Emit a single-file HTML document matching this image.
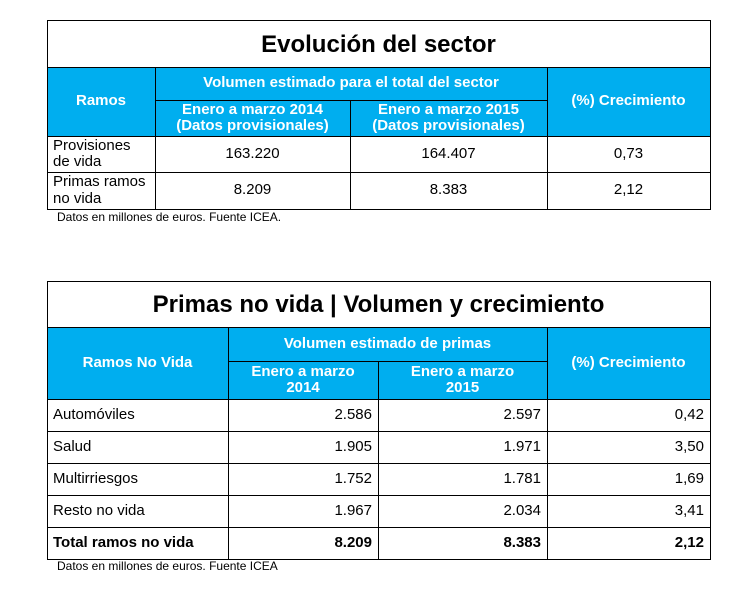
<!DOCTYPE html>
<html><head><style>
body{margin:0;width:750px;height:601px;background:#fff;font-family:"Liberation Sans",Arial,sans-serif;position:relative;overflow:hidden}
.a{position:absolute;box-sizing:border-box;display:flex;align-items:center;justify-content:center;text-align:center;line-height:1.07}
.b{background:#00aeef;color:#fff;font-weight:bold;font-size:15px}
.t{font-weight:bold;font-size:24px;color:#000}
.d{font-size:15px;color:#000}
.l{justify-content:flex-start;text-align:left;padding-left:6px}
.r{justify-content:flex-end;padding-right:6px}
.h{position:absolute;background:#000}
.fn{position:absolute;font-size:12px;color:#000}
</style></head><body>
<!-- Table 1 -->
<div class="a t" style="left:47px;top:21px;width:663px;height:47px">Evolución del sector</div>
<div class="a b" style="left:47px;top:67px;width:663px;height:69px"></div>
<div class="a b" style="left:47px;top:67px;width:108px;height:69px">Ramos</div>
<div class="a b" style="left:155px;top:67px;width:392px;height:33px">Volumen estimado para el total del sector</div>
<div class="a b" style="left:155px;top:100px;width:195px;height:36px">Enero a marzo 2014<br>(Datos provisionales)</div>
<div class="a b" style="left:350px;top:100px;width:197px;height:36px">Enero a marzo 2015<br>(Datos provisionales)</div>
<div class="a b" style="left:547px;top:67px;width:163px;height:69px">(%) Crecimiento</div>
<div class="a d l" style="left:47px;top:136px;width:108px;height:36px">Provisiones<br>de vida</div>
<div class="a d" style="left:155px;top:136px;width:195px;height:36px">163.220</div>
<div class="a d" style="left:350px;top:136px;width:197px;height:36px">164.407</div>
<div class="a d" style="left:547px;top:136px;width:163px;height:36px">0,73</div>
<div class="a d l" style="left:47px;top:172px;width:108px;height:37px">Primas ramos<br>no vida</div>
<div class="a d" style="left:155px;top:172px;width:195px;height:37px">8.209</div>
<div class="a d" style="left:350px;top:172px;width:197px;height:37px">8.383</div>
<div class="a d" style="left:547px;top:172px;width:163px;height:37px">2,12</div>
<div class="h" style="left:47px;top:20px;width:664px;height:1px"></div>
<div class="h" style="left:47px;top:67px;width:664px;height:1px"></div>
<div class="h" style="left:155px;top:100px;width:392px;height:1px"></div>
<div class="h" style="left:47px;top:136px;width:664px;height:1px"></div>
<div class="h" style="left:47px;top:172px;width:664px;height:1px"></div>
<div class="h" style="left:47px;top:209px;width:664px;height:1px"></div>
<div class="h" style="left:47px;top:20px;width:1px;height:190px"></div>
<div class="h" style="left:710px;top:20px;width:1px;height:190px"></div>
<div class="h" style="left:155px;top:67px;width:1px;height:143px"></div>
<div class="h" style="left:350px;top:100px;width:1px;height:110px"></div>
<div class="h" style="left:547px;top:67px;width:1px;height:143px"></div>
<div class="fn" style="left:57px;top:210px">Datos en millones de euros. Fuente ICEA.</div>
<!-- Table 2 -->
<div class="a t" style="left:47px;top:282px;width:663px;height:46px">Primas no vida | Volumen y crecimiento</div>
<div class="a b" style="left:47px;top:327px;width:663px;height:72px"></div>
<div class="a b" style="left:47px;top:327px;width:181px;height:72px">Ramos No Vida</div>
<div class="a b" style="left:228px;top:327px;width:319px;height:34px">Volumen estimado de primas</div>
<div class="a b" style="left:228px;top:361px;width:150px;height:38px">Enero a marzo<br>2014</div>
<div class="a b" style="left:378px;top:361px;width:169px;height:38px">Enero a marzo<br>2015</div>
<div class="a b" style="left:547px;top:327px;width:163px;height:72px">(%) Crecimiento</div>
<div class="a d l" style="left:47px;top:399px;width:181px;height:32px">Automóviles</div>
<div class="a d r" style="left:228px;top:399px;width:150px;height:32px">2.586</div>
<div class="a d r" style="left:378px;top:399px;width:169px;height:32px">2.597</div>
<div class="a d r" style="left:547px;top:399px;width:163px;height:32px">0,42</div>
<div class="a d l" style="left:47px;top:431px;width:181px;height:32px">Salud</div>
<div class="a d r" style="left:228px;top:431px;width:150px;height:32px">1.905</div>
<div class="a d r" style="left:378px;top:431px;width:169px;height:32px">1.971</div>
<div class="a d r" style="left:547px;top:431px;width:163px;height:32px">3,50</div>
<div class="a d l" style="left:47px;top:463px;width:181px;height:32px">Multirriesgos</div>
<div class="a d r" style="left:228px;top:463px;width:150px;height:32px">1.752</div>
<div class="a d r" style="left:378px;top:463px;width:169px;height:32px">1.781</div>
<div class="a d r" style="left:547px;top:463px;width:163px;height:32px">1,69</div>
<div class="a d l" style="left:47px;top:495px;width:181px;height:32px">Resto no vida</div>
<div class="a d r" style="left:228px;top:495px;width:150px;height:32px">1.967</div>
<div class="a d r" style="left:378px;top:495px;width:169px;height:32px">2.034</div>
<div class="a d r" style="left:547px;top:495px;width:163px;height:32px">3,41</div>
<div class="a d l" style="left:47px;top:527px;width:181px;height:32px;font-weight:bold">Total ramos no vida</div>
<div class="a d r" style="left:228px;top:527px;width:150px;height:32px;font-weight:bold">8.209</div>
<div class="a d r" style="left:378px;top:527px;width:169px;height:32px;font-weight:bold">8.383</div>
<div class="a d r" style="left:547px;top:527px;width:163px;height:32px;font-weight:bold">2,12</div>
<div class="h" style="left:47px;top:281px;width:664px;height:1px"></div>
<div class="h" style="left:47px;top:327px;width:664px;height:1px"></div>
<div class="h" style="left:228px;top:361px;width:319px;height:1px"></div>
<div class="h" style="left:47px;top:399px;width:664px;height:1px"></div>
<div class="h" style="left:47px;top:431px;width:664px;height:1px"></div>
<div class="h" style="left:47px;top:463px;width:664px;height:1px"></div>
<div class="h" style="left:47px;top:495px;width:664px;height:1px"></div>
<div class="h" style="left:47px;top:527px;width:664px;height:1px"></div>
<div class="h" style="left:47px;top:559px;width:664px;height:1px"></div>
<div class="h" style="left:47px;top:281px;width:1px;height:279px"></div>
<div class="h" style="left:710px;top:281px;width:1px;height:279px"></div>
<div class="h" style="left:228px;top:327px;width:1px;height:233px"></div>
<div class="h" style="left:378px;top:361px;width:1px;height:199px"></div>
<div class="h" style="left:547px;top:327px;width:1px;height:233px"></div>
<div class="fn" style="left:57px;top:559px">Datos en millones de euros. Fuente ICEA</div>
</body></html>
